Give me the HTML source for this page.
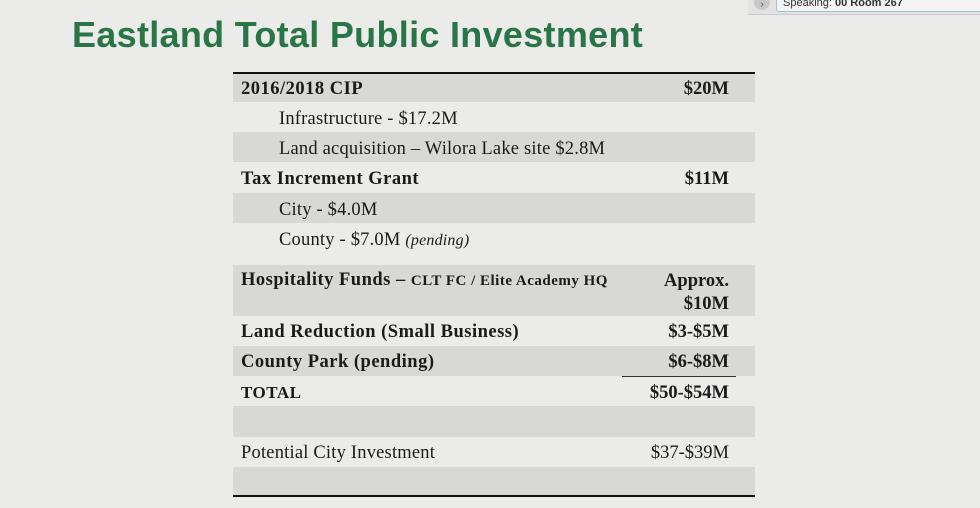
<!DOCTYPE html>
<html><head><style>
body{margin:0;width:980px;height:508px;background:#ebebea;position:relative;overflow:hidden;font-family:"Liberation Serif",serif;color:#1a1a1a}
.t{position:absolute;left:72px;top:14px;font:bold 36px "Liberation Sans",sans-serif;color:#2a7548;letter-spacing:0.3px;white-space:nowrap}
.r{position:absolute;left:233px;width:522px}
.s{background:#d8d8d7}
.l{position:absolute;left:8px;font-size:18.5px;white-space:nowrap;letter-spacing:0.2px;margin-top:2px}
.i{left:46px}
.v{position:absolute;right:26px;font-size:18.5px;font-weight:bold;text-align:right;white-space:nowrap;margin-top:2px}
.bb{font-weight:bold;letter-spacing:0.5px}
</style></head><body>
<div style="position:absolute;left:748px;top:-6px;width:240px;height:20px;background:#e2e2e2;border-bottom:1px solid #ccc"></div>
<div style="position:absolute;left:754px;top:-6px;width:16px;height:16px;border-radius:50%;background:#c8c8c8;font:10px sans-serif;color:#555;text-align:center;line-height:22px">›</div>
<div style="position:absolute;left:776px;top:-8px;width:210px;height:20px;background:#f4f4f4;border:1px solid #9cc3d6;border-radius:3px;font:11px 'Liberation Sans',sans-serif;color:#333;padding-left:6px;line-height:20px;box-sizing:border-box">Speaking: <b>00 Room 267</b></div>
<div class="t">Eastland Total Public Investment</div>
<div style="position:absolute;left:233px;top:72px;width:522px;height:2px;background:#111"></div>
<div class="r s" style="top:74px;height:28px"><div class="l bb" style="top:3px">2016/2018 CIP</div><div class="v" style="top:3px">$20M</div></div>
<div class="r" style="top:102px;height:30px"><div class="l i" style="top:5px">Infrastructure - $17.2M</div></div>
<div class="r s" style="top:132px;height:30px"><div class="l i" style="top:5px">Land acquisition – Wilora Lake site $2.8M</div></div>
<div class="r" style="top:162px;height:31px"><div class="l bb" style="top:5px">Tax Increment Grant</div><div class="v" style="top:5px">$11M</div></div>
<div class="r s" style="top:193px;height:30px"><div class="l i" style="top:5px">City - $4.0M</div></div>
<div class="r" style="top:223px;height:42px"><div class="l i" style="top:5px">County - $7.0M <i style="font-size:16px">(pending)</i></div></div>
<div class="r s" style="top:265px;height:51px"><div class="l bb" style="top:3px">Hospitality Funds – <span style="font-size:15px">CLT FC / Elite Academy HQ</span></div><div class="v" style="top:3px;line-height:23px">Approx.<br>$10M</div></div>
<div class="r" style="top:316px;height:30px"><div class="l bb" style="top:4px">Land Reduction (Small Business)</div><div class="v" style="top:4px">$3-$5M</div></div>
<div class="r s" style="top:346px;height:30px"><div class="l bb" style="top:4px">County Park (pending)</div><div class="v" style="top:4px">$6-$8M</div></div>
<div style="position:absolute;left:622px;top:376px;width:114px;height:1px;background:#333"></div>
<div class="r" style="top:377px;height:29px"><div class="l bb" style="top:4px;font-size:17px">TOTAL</div><div class="v" style="top:4px">$50-$54M</div></div>
<div class="r s" style="top:406px;height:31px"></div>
<div class="r" style="top:437px;height:30px"><div class="l" style="top:4px">Potential City Investment</div><div class="v" style="top:4px;font-weight:normal">$37-$39M</div></div>
<div class="r s" style="top:467px;height:28px"></div>
<div style="position:absolute;left:233px;top:495px;width:522px;height:2px;background:#111"></div>
</body></html>
